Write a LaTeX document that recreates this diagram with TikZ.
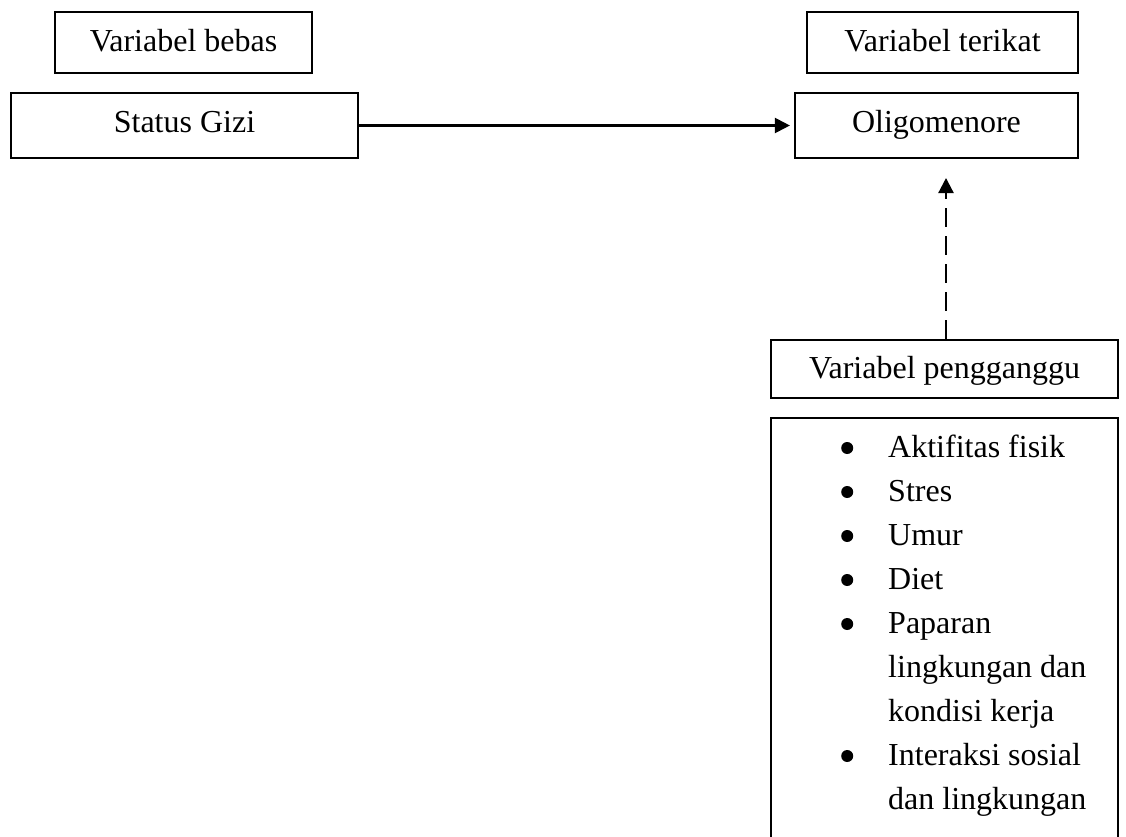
\documentclass[tikz,border=0pt]{standalone}
\usepackage{fontspec}
\setmainfont{Liberation Serif}
\usetikzlibrary{arrows.meta}
\newcommand\blt{\tikz[baseline=-9pt]\fill (0,0) circle (6pt);}
\tikzset{
  txt/.style={font=\fontsize{32}{44}\selectfont},
  box/.style={txt, draw, line width=2.2pt, inner sep=0pt, text height=21pt, text depth=6pt},
  headbox/.style={box, text height=25pt, text depth=6pt},
  conn/.style={line width=2.2pt, -{Triangle[length=15pt,width=15pt]}},
}
\begin{document}
\begin{tikzpicture}[x=1pt,y=-1pt]
\useasboundingbox (0,0) rectangle (1126,837);
\clip (0,0) rectangle (1126,837);
\node[headbox, minimum width=257pt, minimum height=61pt] (bebas) at (183.5,42.5) {Variabel bebas};
\node[box, minimum width=347pt, minimum height=65pt] (gizi) at (184.5,125.5) {Status Gizi};
\node[headbox, minimum width=271pt, minimum height=61pt] (terikat) at (942.5,42.5) {Variabel terikat};
\node[box, minimum width=283pt, minimum height=65pt] (oligo) at (936.5,125.5) {Oligomenore};
\node[headbox, minimum width=347pt, minimum height=58pt] (ganggu) at (944.5,369) {Variabel pengganggu};
\node[draw, line width=2.2pt, minimum width=347pt, minimum height=460pt, anchor=north, inner sep=0pt] (listbox) at (944.5,417) {};
\node[txt, anchor=base west, inner sep=0pt] (list) at (841,457) {%
\begin{tabular}[t]{@{}l@{\hspace{35pt}}l@{}}
\blt & Aktifitas fisik\\
\blt & Stres\\
\blt & Umur\\
\blt & Diet\\
\blt & Paparan\\
 & lingkungan dan\\
 & kondisi kerja\\
\blt & Interaksi sosial\\
 & dan lingkungan
\end{tabular}};
\draw[conn, shorten >=4pt] (gizi.east) -- (oligo.west);
\coordinate (dtip) at (946,178);
\draw[conn, dash pattern=on 19pt off 9pt] (ganggu.north -| dtip) -- (dtip);
\end{tikzpicture}
\end{document}
